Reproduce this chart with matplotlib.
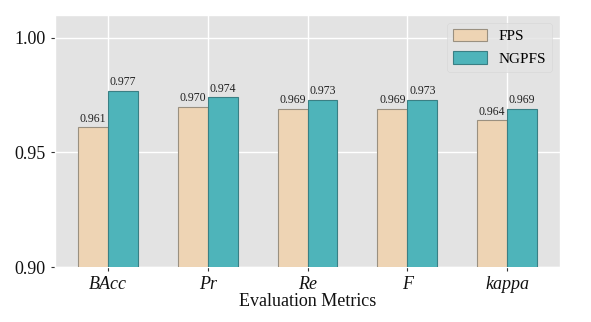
import matplotlib
matplotlib.use("Agg")
import matplotlib.pyplot as plt
import numpy as np

metrics = ["BAcc", "Pr", "Re", "F", "kappa"]
fps = [0.961, 0.970, 0.969, 0.969, 0.964]
ngpfs = [0.977, 0.974, 0.973, 0.973, 0.969]

plt.style.use("ggplot")
plt.rcParams["font.family"] = ["Liberation Serif", "DejaVu Serif"]

fig = plt.figure(figsize=(5.91, 3.22), dpi=100)
ax = fig.add_axes([55 / 591, 1 - 267 / 322, 505 / 591, 252 / 322])

x = np.arange(len(metrics))
w = 0.3
b1 = ax.bar(x - w / 2, fps, w, color="#EED4B4", edgecolor="#9A9080",
            linewidth=0.8, label="FPS", zorder=3)
b2 = ax.bar(x + w / 2, ngpfs, w, color="#4EB4BA", edgecolor="#3A7F84",
            linewidth=0.8, label="NGPFS", zorder=3)

for bars, vals in ((b1, fps), (b2, ngpfs)):
    for r, v in zip(bars, vals):
        ax.text(r.get_x() + r.get_width() / 2, v + 0.0012, f"{v:.3f}",
                ha="center", va="bottom", fontsize=8.5, color="#222222")

ax.set_ylim(0.90, 1.01)
ax.set_yticks([0.90, 0.95, 1.00])
ax.set_yticklabels(["0.90", "0.95", "1.00"], fontsize=13, color="#111111")
ax.set_xticks(x)
ax.set_xticklabels(metrics, fontsize=13, style="italic", color="#111111")
ax.tick_params(axis="both", colors="#333333", length=3)
for lab in ax.get_xticklabels() + ax.get_yticklabels():
    lab.set_color("#111111")
ax.set_xlabel("Evaluation Metrics", fontsize=13, color="#111111", labelpad=0)
ax.set_facecolor("#E3E3E3")
ax.grid(True, color="white", linewidth=1.0, zorder=0)

leg = ax.legend(loc="upper right", fontsize=11, frameon=True,
                handlelength=2.2, handleheight=0.9)
leg.get_frame().set_facecolor("#E3E3E3")
leg.get_frame().set_edgecolor("#D6D6D6")

fig.savefig("out.png", dpi=100, facecolor="white")
